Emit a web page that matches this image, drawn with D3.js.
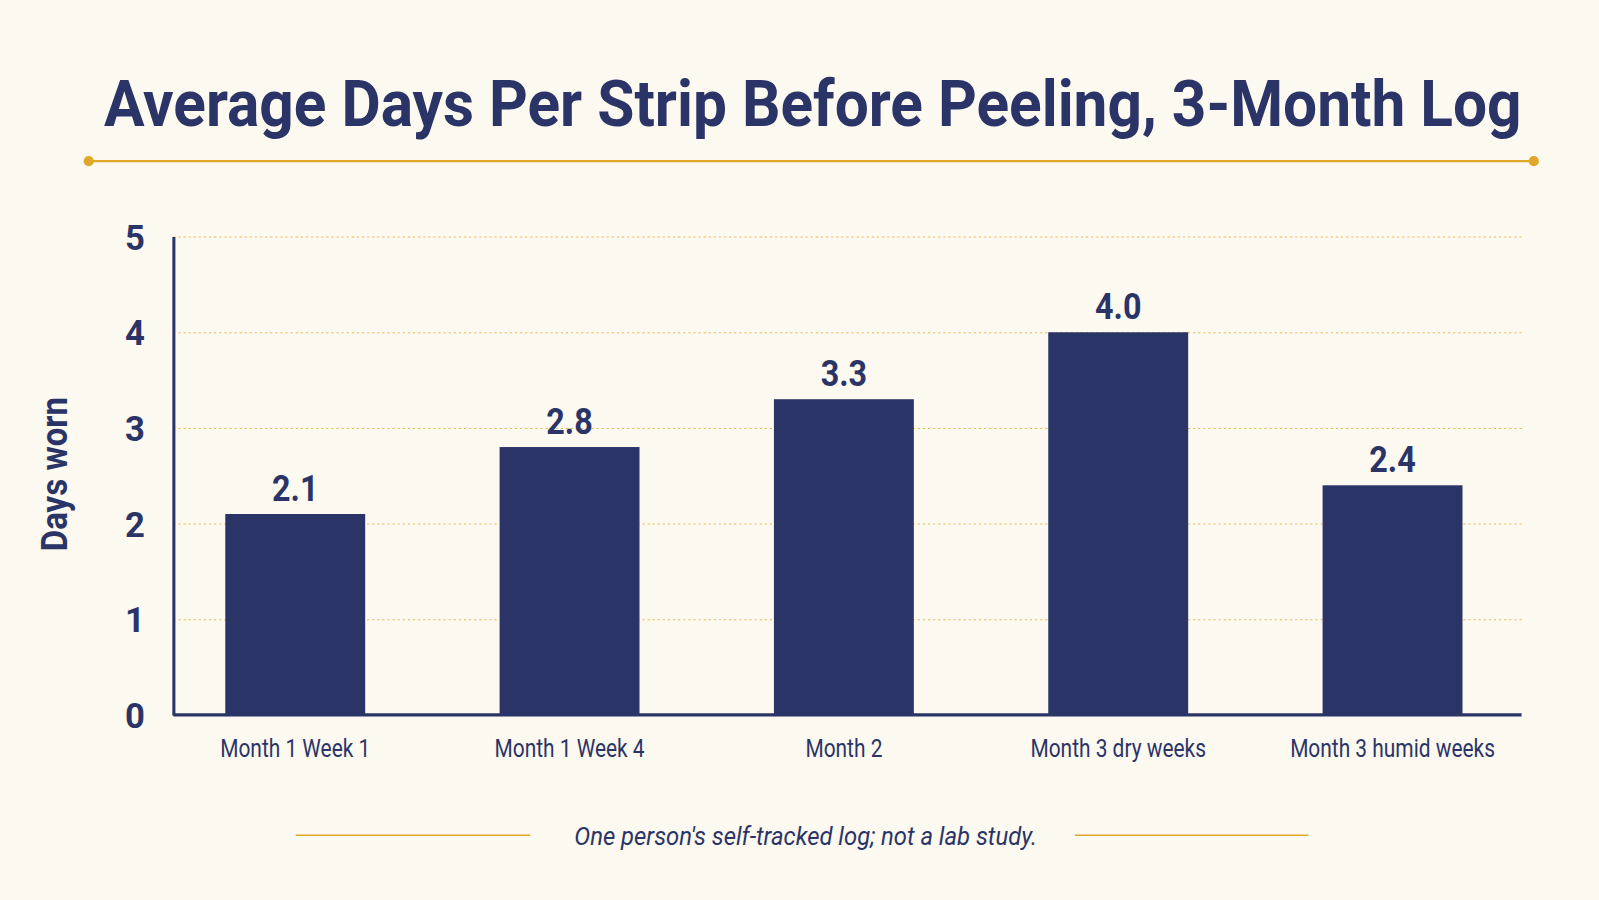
<html>
<head>
    <script src="https://d3js.org/d3.v7.min.js"></script>
    <style>
        body { margin: 0; background: #fcf9f0; }
        text { font-family: "Roboto", "DejaVu Sans Condensed", sans-serif; }
        .gridlines line { stroke: #e8b84a; stroke-dasharray: 2 3; }
        .gridlines .domain { stroke: none; }
    </style>
</head>
<body>
<svg width="1599" height="900"></svg>
<script>
    const categories = ["Month 1 Week 1", "Month 1 Week 4", "Month 2", "Month 3 dry weeks", "Month 3 humid weeks"];
    const values = [2.1, 2.8, 3.3, 4.0, 2.4];
    const yTicks = [0, 1, 2, 3, 4, 5];

    const navy = "#2b3467";
    const gold = "#e0a82a";
    const svg = d3.select("svg").append("g").attr("transform", "scale(1.0198)");

    // squeeze text horizontally to mimic the condensed face
    function condense(sel, f) {
        sel.each(function () {
            const w = this.getComputedTextLength();
            d3.select(this).attr("textLength", w * f).attr("lengthAdjust", "spacingAndGlyphs");
        });
    }

    svg.append("text")
        .attr("x", 797).attr("y", 124)
        .attr("text-anchor", "middle")
        .attr("textLength", 1390).attr("lengthAdjust", "spacingAndGlyphs")
        .attr("font-size", 64).attr("font-weight", "bold").attr("fill", navy)
        .text("Average Days Per Strip Before Peeling, 3-Month Log");

    svg.append("line").attr("x1", 87).attr("x2", 1504).attr("y1", 158).attr("y2", 158)
        .attr("stroke", gold).attr("stroke-width", 2);
    [87, 1504].forEach(x => svg.append("circle").attr("cx", x).attr("cy", 158).attr("r", 5).attr("fill", gold));

    const xScale = d3.scaleBand().domain(categories).range([155, 1500]).paddingInner(0.49).paddingOuter(0.245);
    const yScale = d3.scaleLinear().domain([0, 5]).range([701, 232]);

    svg.append("g").attr("class", "gridlines")
        .attr("transform", "translate(170,0)")
        .call(d3.axisLeft(yScale).tickValues(yTicks.slice(1)).tickFormat("").tickSize(-1322));

    svg.selectAll(".bar").data(values).enter().append("rect")
        .attr("x", (d, i) => xScale(categories[i]))
        .attr("y", d => yScale(d))
        .attr("width", xScale.bandwidth())
        .attr("height", d => yScale(0) - yScale(d))
        .attr("fill", navy);

    svg.selectAll(".val").data(values).enter().append("text")
        .attr("x", (d, i) => xScale(categories[i]) + xScale.bandwidth() / 2)
        .attr("y", d => yScale(d) - 13)
        .attr("text-anchor", "middle").attr("font-size", 36).attr("font-weight", "bold")
        .attr("fill", navy).text(d => d.toFixed(1))
        .call(condense, 0.88);

    const yAxis = svg.append("g").attr("transform", "translate(170,0)")
        .call(d3.axisLeft(yScale).tickValues(yTicks).tickFormat(d3.format("d")).tickSize(0).tickPadding(28));
    yAxis.select(".domain").attr("stroke", navy).attr("stroke-width", 3);
    yAxis.selectAll("text").attr("font-size", 34).attr("font-weight", "bold").attr("fill", navy)
        .attr("font-family", "Roboto, sans-serif").attr("dy", "0.36em");

    const xAxis = svg.append("g").attr("transform", "translate(0,701)")
        .call(d3.axisBottom(xScale).tickSize(0).tickPadding(24));
    xAxis.select(".domain").attr("d", "M170,0H1492").attr("stroke", navy).attr("stroke-width", 3);
    xAxis.selectAll("text").attr("font-size", 25).attr("fill", navy)
        .attr("font-family", "Roboto, sans-serif")
        .call(condense, 0.82);

    svg.append("text")
        .attr("transform", "translate(66,465) rotate(-90)")
        .attr("text-anchor", "middle").attr("font-size", 36).attr("font-weight", "bold")
        .attr("fill", navy).text("Days worn")
        .call(condense, 0.9);

    svg.append("line").attr("x1", 290).attr("x2", 520).attr("y1", 819).attr("y2", 819).attr("stroke", gold).attr("stroke-width", 1.5);
    svg.append("line").attr("x1", 1054).attr("x2", 1283).attr("y1", 819).attr("y2", 819).attr("stroke", gold).attr("stroke-width", 1.5);
    svg.append("text").attr("x", 790).attr("y", 829)
        .attr("text-anchor", "middle").attr("font-size", 26).attr("font-style", "italic")
        .attr("fill", navy).text("One person's self-tracked log; not a lab study.")
        .call(condense, 0.9);
</script>
</body>
</html>
